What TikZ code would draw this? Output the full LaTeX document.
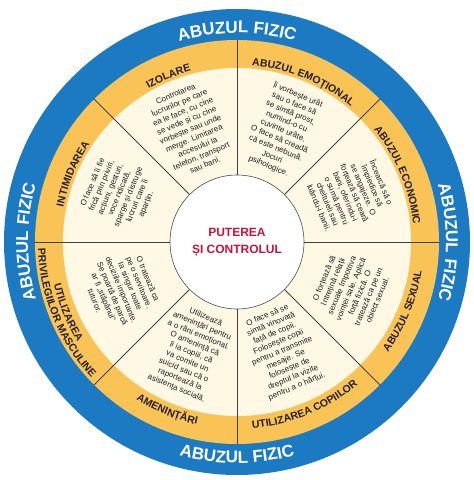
\documentclass[tikz,border=0pt]{standalone}
\usepackage{fontspec}
\setmainfont{Liberation Sans}
\usetikzlibrary{decorations.text}
\definecolor{wheelblue}{RGB}{28,122,194}
\definecolor{wheelyellow}{RGB}{250,195,85}
\definecolor{wheelcream}{RGB}{254,248,228}
\definecolor{wheelred}{RGB}{200,20,60}
\definecolor{wheeltext}{RGB}{35,31,32}

\begin{document}
\begin{tikzpicture}[x=1pt,y=1pt,
  body/.style={align=center,text=wheeltext,font=\fontsize{8}{9.6}\selectfont,inner sep=0pt},
  spoke/.style={draw=black!75,line width=0.8pt},
  fizic/.style={decorate,decoration={text along path,text align=center,text color=white,
    text={|\fontsize{17}{17}\selectfont\bfseries|ABUZUL FIZIC}}},
  sectorname/.style={decorate,decoration={text along path,text align=center,text color=wheeltext,
    text={|\fontsize{10.5}{10.5}\selectfont\bfseries|#1}}}]
\useasboundingbox (-237,-238) rectangle (237,242);
\fill[wheelblue] (0,0) circle (233);
\fill[wheelyellow] (0,0) circle (202);
\fill[wheelcream] (0,0) circle (174);
\foreach \a in {0,45,...,315}
  \draw[spoke] (\a:67) -- (\a:202);
\draw[fill=white,draw=black!70,line width=0.6pt] (0,0) circle (67);

% outer ring
\path[fizic] (150:209) arc[start angle=150,end angle=30,radius=209];
\path[fizic] (60:209) arc[start angle=60,end angle=-60,radius=209];
\path[fizic] (240:209) arc[start angle=240,end angle=120,radius=209];
\path[fizic] (210:221) arc[start angle=210,end angle=330,radius=221];

% sector names
\path[sectorname=IZOLARE] (152.5:177) arc[start angle=152.5,end angle=72.5,radius=177];
\path[sectorname=ABUZUL EMOȚIONAL] (107.5:177) arc[start angle=107.5,end angle=27.5,radius=177];
\path[sectorname=ABUZUL ECONOMIC] (62.5:177) arc[start angle=62.5,end angle=-17.5,radius=177];
\path[sectorname=INTIMIDAREA] (197.5:177) arc[start angle=197.5,end angle=117.5,radius=177];
\path[sectorname=ABUZUL SEXUAL] (-62.5:187) arc[start angle=-62.5,end angle=17.5,radius=187];
\path[sectorname=UTILIZAREA COPIILOR] (-107.5:187) arc[start angle=-107.5,end angle=-27.5,radius=187];
\path[sectorname=AMENINȚĂRI] (-152.5:187) arc[start angle=-152.5,end angle=-72.5,radius=187];
\path[sectorname=UTILIZAREA] (-197.5:188) arc[start angle=-197.5,end angle=-117.5,radius=188];
\path[sectorname=PRIVILEGIILOR MASCULINE] (-197.5:199) arc[start angle=-197.5,end angle=-117.5,radius=199];

\node[body,rotate=22.5] (izolare) at (112.5:122) {Controlarea\\lucrurilor pe care\\ea le face, cu cine\\se vede și cu cine\\vorbește sau unde\\merge. Limitarea\\accesului la\\telefon, transport\\sau bani.};
\node[body,rotate=-22.5] (emotional) at (67.5:121) {Îi vorbește urât\\sau o face să\\se simtă prost,\\numind-o cu\\cuvinte urâte.\\O face să creadă\\că este nebună.\\Jocuri\\psihologice.};
\node[body,rotate=-67.5] (economic) at (22.5:123) {Încearcă să o\\împiedice să\\se angajeze. O\\forțează să ceară\\bani, oferindu-i\\o sumă pentru\\cheltuieli sau\\luându-i banii.};
\node[body,rotate=67.5] (sexual) at (-22.5:123) {O forțează să\\întrețină relații\\sexuale împotriva\\voinței sale. Aplică\\forță fizică. O\\tratează ca pe un\\obiect sexual.};
\node[body,rotate=22.5] (copii) at (-67.5:118) {O face să se\\simtă vinovată\\față de copii.\\Folosește copii\\pentru a transmite\\mesaje. Se\\folosește de\\dreptul la vizite\\pentru a o hărțui.};
\node[body,rotate=-22.5] (amenintari) at (-112.5:120) {Utilizează\\amenințări pentru\\a o răni emoțional.\\O amenință că\\îi ia copiii, că\\va comite un\\suicid sau că o\\raportează la\\asistența socială.};
\node[body,rotate=-67.5] (privilegii) at (-157.5:125) {O tratează ca\\pe o servitoare.\\Ia singur toate\\deciziile importante.\\Se poartă de parcă\\ar fi „stăpânul”\\tuturor.};
\node[body,rotate=67.5] (intimidare) at (157.5:127) {O face să îi fie\\frică prin priviri,\\acțiuni, gesturi,\\voce ridicată,\\sparge și distruge\\lucruri care îi\\aparțin.};

\node[align=center,text=wheelred,font=\fontsize{12}{17}\selectfont\bfseries] (putere) at (0,0) {PUTEREA\\ȘI CONTROLUL};
\end{tikzpicture}
\end{document}
